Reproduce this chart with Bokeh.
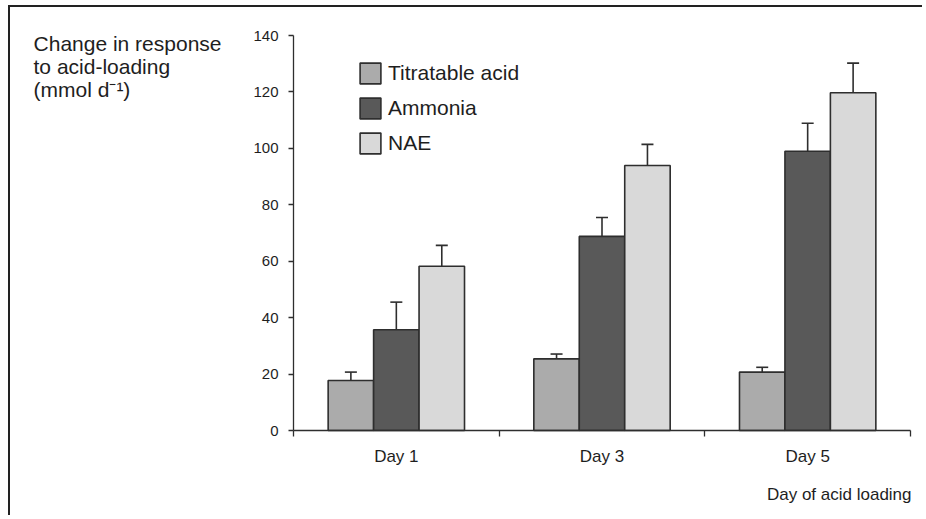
from bokeh.plotting import figure
from bokeh.models import (ColumnDataSource, Range1d, FixedTicker, Whisker, TeeHead,
                          Label, Legend, LegendItem)
from bokeh.embed import file_html
from bokeh.resources import INLINE

# ---- data ----
days = ["Day 1", "Day 3", "Day 5"]
series = ["Titratable acid", "Ammonia", "NAE"]
titratable = [17.7, 25.4, 20.7]
titratable_err = [3.0, 1.7, 1.7]
ammonia = [35.7, 68.8, 99.0]
ammonia_err = [9.8, 6.7, 9.9]
nae = [58.2, 93.9, 119.7]
nae_err = [7.4, 7.5, 10.5]
y_ticks = [0, 20, 40, 60, 80, 100, 120, 140]

colors = ["#ababab", "#595959", "#d9d9d9"]
FONT = "Liberation Sans"
TXT = "#1e1e1e"
EDGE = "#2e2e2e"

# canvas geometry (px): plot area spans x 283..900, y 28..423 of a 914x510 canvas
W, H = 914, 510
PX_L, PX_R, PX_T, PX_B = 283, 900, 28, 423
n = len(days)
ymax = y_ticks[-1]
sx = (PX_R - PX_L) / n          # px per category
sy = (PX_B - PX_T) / ymax       # px per unit
x_range = Range1d(-PX_L / sx, n + (W - PX_R) / sx)
y_range = Range1d(-(H - PX_B) / sy, ymax + PX_T / sy)

p = figure(width=W, height=H, output_backend="svg", toolbar_location=None,
           x_range=x_range, y_range=y_range,
           min_border_left=0, min_border_right=0, min_border_top=0,
           min_border_bottom=0)
p.styles = {"border-left": "2px solid #222", "border-top": "2px solid #222",
            "margin-top": "5px", "margin-left": "8px"}
p.outline_line_color = None
p.xgrid.grid_line_color = None
p.ygrid.grid_line_color = None
p.background_fill_color = "white"
p.border_fill_color = "white"

bar_w = 0.221
offsets = [-bar_w, 0.0, bar_w]
vals = [titratable, ammonia, nae]
errs = [titratable_err, ammonia_err, nae_err]

renderers = []
for i, (v, e) in enumerate(zip(vals, errs)):
    xs = [k + 0.5 + offsets[i] for k in range(n)]
    src = ColumnDataSource(dict(x=xs, top=v, upper=[a + b for a, b in zip(v, e)]))
    w = Whisker(base="x", lower="top", upper="upper", source=src,
                line_color=EDGE, line_width=1.6, lower_head=None,
                upper_head=TeeHead(size=12, line_color=EDGE, line_width=1.6))
    p.add_layout(w)
    r = p.vbar(x="x", top="top", width=bar_w, bottom=0, source=src,
               fill_color=colors[i], line_color=EDGE, line_width=1.6)
    renderers.append(r)

legend = Legend(items=[LegendItem(label=s, renderers=[r]) for s, r in zip(series, renderers)],
                location=(347, 361), orientation="vertical",
                glyph_width=26, glyph_height=26, label_height=26, spacing=9,
                label_standoff=5, padding=0, margin=0,
                border_line_color=None, background_fill_alpha=0,
                label_text_font=FONT, label_text_font_size="21px",
                label_text_color=TXT)
p.add_layout(legend, "center")

# x axis: labels at category centres, tick marks at category boundaries
p.xaxis.fixed_location = 0
p.xaxis.bounds = (0, n)
p.xaxis.ticker = FixedTicker(ticks=[k + 0.5 for k in range(n)],
                             minor_ticks=list(range(n + 1)))
p.xaxis.major_label_overrides = {k + 0.5: d for k, d in enumerate(days)}
p.xaxis.major_tick_out = 0
p.xaxis.major_tick_in = 0
p.xaxis.minor_tick_out = 6
p.xaxis.minor_tick_in = 0
p.xaxis.minor_tick_line_color = EDGE
p.xaxis.minor_tick_line_width = 1.3
p.xaxis.axis_line_color = EDGE
p.xaxis.axis_line_width = 1.3
p.xaxis.major_label_standoff = 10
p.xaxis.major_label_text_font = FONT
p.xaxis.major_label_text_font_size = "17px"
p.xaxis.major_label_text_color = TXT

p.yaxis.fixed_location = 0
p.yaxis.bounds = (0, ymax)
p.yaxis.ticker = FixedTicker(ticks=y_ticks, minor_ticks=[])
p.yaxis.major_tick_out = 5
p.yaxis.major_tick_in = 0
p.yaxis.major_tick_line_color = EDGE
p.yaxis.major_tick_line_width = 1.3
p.yaxis.axis_line_color = EDGE
p.yaxis.axis_line_width = 1.3
p.yaxis.major_label_standoff = 10
p.yaxis.major_label_text_font = FONT
p.yaxis.major_label_text_font_size = "15px"
p.yaxis.major_label_text_color = TXT

# y-axis title (top-left, three lines) and x-axis title (right aligned)
title_lines = ["Change in response", "to acid-loading", "(mmol d\u207b\u00b9)"]
for txt, yy in zip(title_lines, [137.2, 129.0, 120.9]):
    p.add_layout(Label(x=-1.264, y=yy, text=txt, text_font=FONT,
                       text_font_size="21px", text_color=TXT,
                       text_baseline="alphabetic", text_align="left"))
p.add_layout(Label(x=3.005, y=-22.7, text="Day of acid loading", text_font=FONT,
                   text_font_size="17px", text_color=TXT,
                   text_baseline="alphabetic", text_align="right"))

open("out.html", "w").write(file_html(p, INLINE))
